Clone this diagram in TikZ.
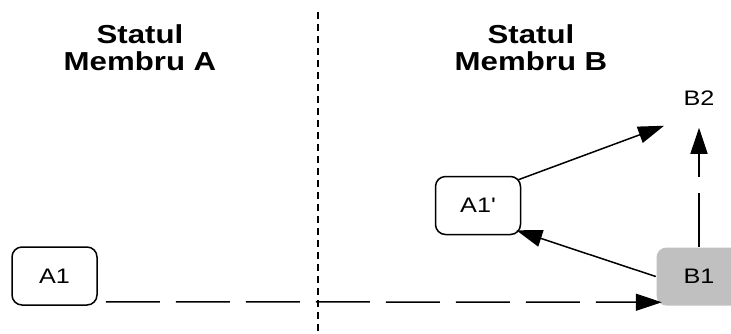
\documentclass[tikz,border=0pt]{standalone}
\usepackage{fontspec}
\newfontfamily\diagfont[FakeStretch=1.2, Ligatures=TeXOff]{Liberation Sans}
\usetikzlibrary{positioning, arrows.meta}
\definecolor{hostgray}{HTML}{C0C0C0}

\begin{document}
\begin{tikzpicture}[
  x=0.5pt, y=-0.5pt,
  every node/.style={font=\diagfont\fontsize{10.5}{12}\selectfont},
  statebox/.style={draw, line width=0.75pt, rounded corners=5pt,
    minimum width=42.5pt, minimum height=29pt, inner sep=0pt},
  ghostbox/.style={minimum width=42.5pt, minimum height=29pt, inner sep=0pt},
  heading/.style={align=center, font=\diagfont\bfseries\fontsize{13}{13.5}\selectfont},
  flow/.style={->, line width=0.75pt},
  transfer/.style={flow, dash pattern=on 27pt off 8pt},
  >={Triangle[length=13pt, width=8.5pt]}
]
  \useasboundingbox (0,0) rectangle (731,333);
  \clip (0,0) rectangle (731,333);

  % border between the two states
  \draw[line width=1pt, dash pattern=on 3.5pt off 2.5pt] (318,12) -- (318,333);

  \node[heading] (stateA) at (140,47.5) {Statul\\Membru A};
  \node[heading] (stateB) at (531,47.5) {Statul\\Membru B};

  \node[statebox] (A1) at (54.5,276) {A1};
  \node[statebox] (A1p) at (478,205.5) {A1'};
  \node[statebox, draw=none, fill=hostgray] (B1) at (699,276.5) {B1};
  \node[ghostbox, above=59.5pt of B1] (B2) {B2};

  \draw[transfer] ([xshift=4pt, yshift=2pt]A1.south east) -- ([xshift=3pt, yshift=2pt]B1.south west);
  \draw[flow] (B1.west) -- ([xshift=-2.5pt, yshift=2.5pt]A1p.south east);
  \draw[flow] ([xshift=-1.5pt, yshift=-2pt]A1p.north east) -- ([xshift=4pt, yshift=1pt]B2.south west);
  \draw[transfer] (B1.north) -- (B2.south);
\end{tikzpicture}
\end{document}
